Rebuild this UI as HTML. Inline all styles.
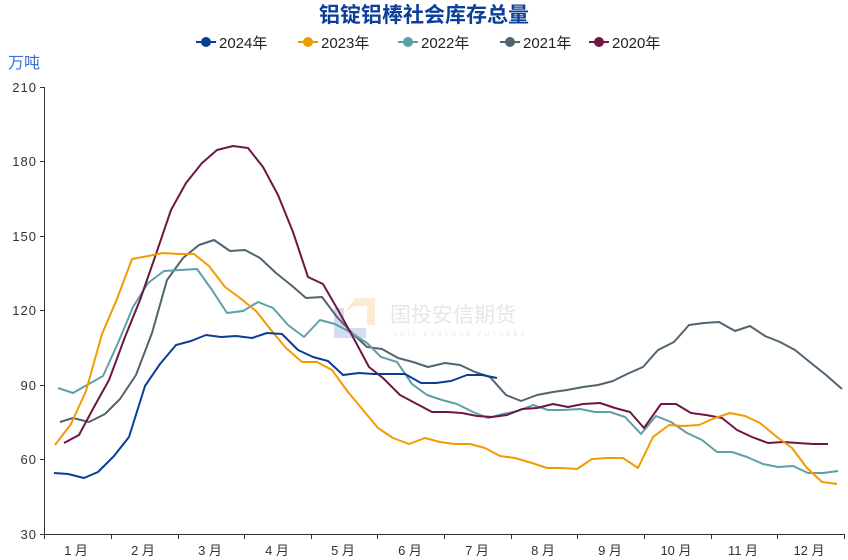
<!DOCTYPE html>
<html><head><meta charset="utf-8"><style>
body{margin:0;background:#fff;}
svg{display:block;font-family:"Liberation Sans","Noto Sans CJK SC",sans-serif;}
</style></head><body>
<svg width="848" height="560" viewBox="0 0 848 560">
<text x="424" y="22" text-anchor="middle" font-size="21" font-weight="bold" fill="#0d3f9a">铝锭铝棒社会库存总量</text>
<g font-size="15" fill="#222">
<line x1="196" y1="42" x2="216" y2="42" stroke="#0a3d96" stroke-width="2"/><circle cx="206" cy="42" r="5" fill="#0a3d96"/><text x="219" y="48">2024年</text>
<line x1="298" y1="42" x2="318" y2="42" stroke="#f29b00" stroke-width="2"/><circle cx="308" cy="42" r="5" fill="#f29b00"/><text x="321" y="48">2023年</text>
<line x1="398" y1="42" x2="418" y2="42" stroke="#5f9fa8" stroke-width="2"/><circle cx="408" cy="42" r="5" fill="#5f9fa8"/><text x="421" y="48">2022年</text>
<line x1="500" y1="42" x2="520" y2="42" stroke="#526470" stroke-width="2"/><circle cx="510" cy="42" r="5" fill="#526470"/><text x="523" y="48">2021年</text>
<line x1="589" y1="42" x2="609" y2="42" stroke="#6e1744" stroke-width="2"/><circle cx="599" cy="42" r="5" fill="#6e1744"/><text x="612" y="48">2020年</text>
</g>
<text x="8" y="68" font-size="16" fill="#3a6fd0">万吨</text>
<!-- watermark -->
<g opacity="0.5">
<path d="M345 312 L355 298 L375 298 L375 325 L367 325 L367 306 L355 306 Z" fill="#f9d8a8"/>
<rect x="334" y="308" width="10" height="30" fill="#aabbe0"/><rect x="334" y="328" width="32" height="10" fill="#aabbe0"/>
<text x="390" y="322" font-size="21" fill="#cfcfcf">国投安信期货</text>
<text x="393" y="336" font-size="6" fill="#cfcfcf" letter-spacing="3">SDIC ESSENCE FUTURES</text>
</g>
<!-- axes -->
<g stroke="#333" stroke-width="1">
<line x1="44.5" y1="87" x2="44.5" y2="534"/>
<line x1="44" y1="534.5" x2="845" y2="534.5"/>
<line x1="40" y1="87.5" x2="44" y2="87.5"/><line x1="40" y1="161.5" x2="44" y2="161.5"/><line x1="40" y1="236.5" x2="44" y2="236.5"/><line x1="40" y1="310.5" x2="44" y2="310.5"/><line x1="40" y1="385.5" x2="44" y2="385.5"/><line x1="40" y1="459.5" x2="44" y2="459.5"/><line x1="40" y1="534.5" x2="44" y2="534.5"/>
<line x1="44.5" y1="534" x2="44.5" y2="539"/><line x1="111.5" y1="534" x2="111.5" y2="539"/><line x1="178.5" y1="534" x2="178.5" y2="539"/><line x1="244.5" y1="534" x2="244.5" y2="539"/><line x1="311.5" y1="534" x2="311.5" y2="539"/><line x1="377.5" y1="534" x2="377.5" y2="539"/><line x1="444.5" y1="534" x2="444.5" y2="539"/><line x1="511.5" y1="534" x2="511.5" y2="539"/><line x1="577.5" y1="534" x2="577.5" y2="539"/><line x1="644.5" y1="534" x2="644.5" y2="539"/><line x1="711.5" y1="534" x2="711.5" y2="539"/><line x1="777.5" y1="534" x2="777.5" y2="539"/><line x1="844.5" y1="534" x2="844.5" y2="539"/>
</g>
<g font-size="13" fill="#333" text-anchor="end" letter-spacing="1">
<text x="37" y="92">210</text><text x="37" y="166">180</text><text x="37" y="241">150</text><text x="37" y="315">120</text><text x="37" y="390">90</text><text x="37" y="464">60</text><text x="37" y="539">30</text>
</g>
<g font-size="13" fill="#333" text-anchor="middle">
<text x="76" y="555">1 月</text><text x="143" y="555">2 月</text><text x="210" y="555">3 月</text><text x="277" y="555">4 月</text><text x="343" y="555">5 月</text><text x="410" y="555">6 月</text><text x="477" y="555">7 月</text><text x="543" y="555">8 月</text><text x="610" y="555">9 月</text><text x="676" y="555">10 月</text><text x="743" y="555">11 月</text><text x="809" y="555">12 月</text>
</g>
<g fill="none" stroke-width="2" stroke-linejoin="round">
<polyline stroke="#526470" points="60,422 73,418 89,422 105,414 120,399 136,375 152,333 167,280 183,258 199,245 214,240 230,251 245,250 260,258 276,273 291,285 306,298 322,297 337,317 352,333 367,347 382,349 398,358 413,362 428,367 445,363 460,365 475,372 490,377 506,395 521,401 537,395 553,392 567,390 583,387 598,385 613,381 627,374 643,367 658,350 674,342 689,325 704,323 719,322 735,331 750,326 765,336 780,342 795,350 811,363 826,375 842,389"/>
<polyline stroke="#5f9fa8" points="58,388 73,393 87,385 103,376 118,343 133,307 148,283 164,271 180,270 197,269 212,290 227,313 243,311 258,302 273,308 288,325 304,337 320,320 335,324 350,332 367,343 381,357 397,362 412,384 427,395 442,400 457,404 473,412 488,418 503,414 518,411 533,405 548,410 563,410 580,409 595,412 610,412 625,417 641,434 656,416 671,422 687,433 702,440 717,452 732,452 747,457 763,464 778,467 793,466 808,473 823,473 838,471"/>
<polyline stroke="#6e1744" points="64,443 79,435 94,407 109,380 125,337 140,300 155,257 171,210 186,183 202,163 217,150 233,146 248,148 263,167 278,195 293,232 308,277 323,284 338,310 353,337 369,367 383,378 400,395 415,403 432,412 447,412 462,413 477,416 492,417 507,415 522,409 537,408 553,404 568,407 583,404 600,403 615,408 630,412 644,428 661,404 676,404 691,413 706,415 722,418 737,430 752,437 768,443 783,442 798,443 813,444 828,444"/>
<polyline stroke="#f29b00" points="55,445 71,424 86,391 102,334 117,299 132,259 148,256 163,253 179,254 194,254 209,266 225,287 240,298 256,311 271,330 286,348 302,362 317,362 332,370 348,392 363,410 378,428 393,438 409,444 425,438 440,442 455,444 470,444 485,448 500,456 515,458 532,463 547,468 562,468 577,469 592,459 608,458 623,458 638,468 653,437 669,425 683,426 699,425 715,418 730,413 745,416 760,423 777,437 792,448 807,468 822,482 837,484"/>
<polyline stroke="#0a3d96" points="54,473 68,474 84,478 98,472 114,456 129,437 145,386 160,364 176,345 191,341 206,335 221,337 236,336 252,338 267,333 282,334 298,350 313,357 328,361 343,375 359,373 374,374 390,374 405,374 421,383 436,383 451,381 467,375 482,375 497,378"/>
</g>
</svg>
</body></html>
